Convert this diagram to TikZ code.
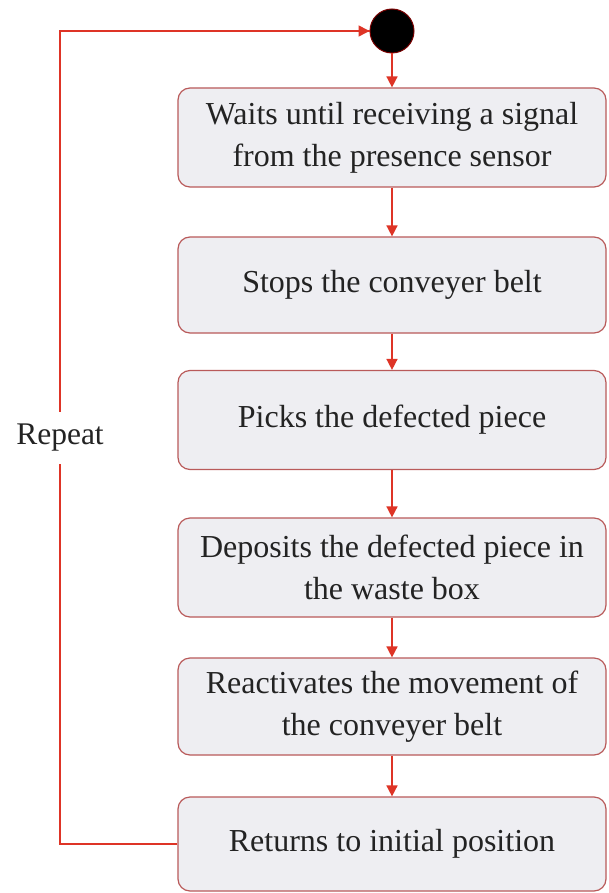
\documentclass[tikz,border=0pt]{standalone}
\usepackage{fontspec}
\setmainfont{Liberation Serif}
\usetikzlibrary{arrows.meta}
\definecolor{boxline}{RGB}{185,90,90}
\definecolor{boxfill}{RGB}{238,238,242}
\definecolor{arrowred}{RGB}{222,52,38}
\definecolor{txt}{RGB}{35,35,35}
\definecolor{dotline}{RGB}{120,0,0}
\begin{document}
\begin{tikzpicture}[x=1pt,y=-1pt,
  stepbox/.style={draw=boxline,fill=boxfill,rounded corners=12pt,line width=1.2pt,
    minimum width=428pt,align=center,font=\fontsize{32}{42}\selectfont,text=txt,inner sep=0pt},
  flow/.style={draw=arrowred,line width=1.6pt,-{Triangle[length=11pt,width=11pt]}},
  loopline/.style={draw=arrowred,line width=1.8pt},
  lbl/.style={font=\fontsize{31.5}{42}\selectfont,text=txt,fill=white,inner xsep=2pt,inner ysep=12pt}]
\fill[white] (0,0) rectangle (608,893);
\useasboundingbox (0,0) rectangle (608,893);
\node[circle,fill=black,draw=dotline,line width=1pt,minimum size=44pt,inner sep=0pt] (start) at (392,31) {};
\node[stepbox,minimum height=99pt] (b1) at (392,137.5) {Waits until receiving a signal\\from the presence sensor};
\node[stepbox,minimum height=96pt] (b2) at (392,285) {Stops the conveyer belt};
\node[stepbox,minimum height=99pt] (b3) at (392,420) {Picks the defected piece};
\node[stepbox,minimum height=99pt] (b4) at (392,567.5) {Deposits the defected piece in\\the waste box};
\node[stepbox,minimum height=97pt] (b5) at (392,706.5) {Reactivates the movement of\\the conveyer belt};
\node[stepbox,minimum height=94pt] (b6) at (392,844) {Returns to initial position};
\draw[flow] (start) -- (b1);
\draw[flow] (b1) -- (b2);
\draw[flow] (b2) -- (b3);
\draw[flow] (b3) -- (b4);
\draw[flow] (b4) -- (b5);
\draw[flow] (b5) -- (b6);
\coordinate (cb) at (60,844);
\coordinate (ct) at (60,31);
\draw[loopline] (b6.west) -- (cb) -- (ct) -- (start.west);
\draw[flow] (ct) -- (start.west);
\node[lbl] (rep) at (60,438) {Repeat};
\end{tikzpicture}
\end{document}
